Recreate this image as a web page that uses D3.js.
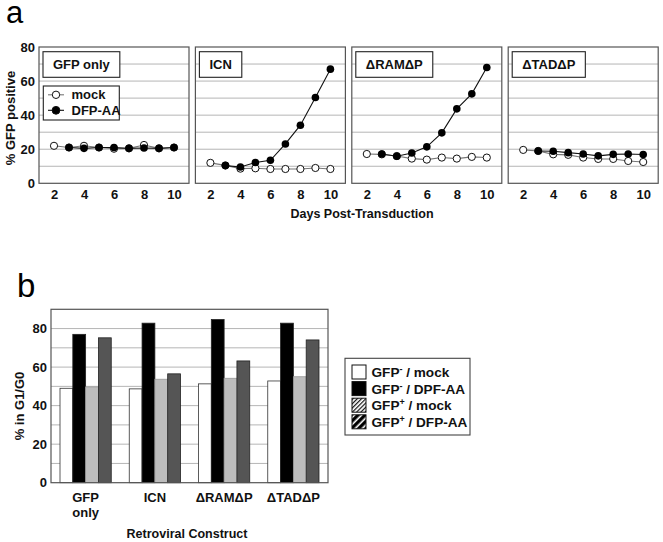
<!DOCTYPE html>
<html><head><meta charset="utf-8">
<script src="https://cdn.jsdelivr.net/npm/d3@7"></script>
<style>body{margin:0;background:#fff}svg{display:block}text{font-family:"Liberation Sans",Arial,Helvetica,sans-serif}</style>
</head><body>
<svg id="c" width="663" height="542"></svg>
<script>
// ---- Panel a data ----
const days = [2,3,4,5,6,7,8,9,10];
const constructs = ["GFP only","ICN","\u0394RAM\u0394P","\u0394TAD\u0394P"];
const mockGFPonly = [22,21,22,21,20.3,20.5,22.5,20.5,21];
const dfpGFPonly  = [null,21,20.5,21,21,20.5,20.7,20.5,21];
const mockICN = [12,10.5,8.6,8.8,8.4,8.4,8.4,9,8.4];
const dfpICN  = [null,10.4,9.6,12.2,13.5,23.1,34.1,50.4,67];
const mockRAM = [17.2,17,16,14.5,13.9,15.1,14.5,15.5,15.1];
const dfpRAM  = [null,17.2,15.9,17.8,21.4,29.6,43.7,52.5,68];
const mockTAD = [19.6,19,17,16.7,15.1,14.3,14.3,13.1,12.5];
const dfpTAD  = [null,19,18.8,18,17.2,16.1,17,17.2,16.9];
const aYTicks = [0,20,40,60,80];
const aXTicks = [2,4,6,8,10];
const aSeriesNames = ["mock","DFP-AA"];

// ---- Panel b data ----
const bCategories = [["GFP","only"],["ICN"],["\u0394RAM\u0394P"],["\u0394TAD\u0394P"]];
const gfpNegMock = [49,48.7,51.3,52.8];
const gfpNegDfp  = [77,82.8,84.7,82.8];
const gfpPosMock = [49.7,53.7,54.2,55];
const gfpPosDfp  = [75.2,56.5,63.2,74.1];
const bYTicks = [0,20,40,60,80];
const bLegend = [["GFP","-"," / mock"],["GFP","-"," / DPF-AA"],["GFP","+"," / mock"],["GFP","+"," / DFP-AA"]];

const panelsA = [
  {mock:mockGFPonly, dfp:dfpGFPonly},
  {mock:mockICN, dfp:dfpICN},
  {mock:mockRAM, dfp:dfpRAM},
  {mock:mockTAD, dfp:dfpTAD}
];

const svg = d3.select("#c");
const frameColor = "#555", gridColor = "#b5b5b5";

// defs for hatches
const defs = svg.append("defs");
const p1 = defs.append("pattern").attr("id","hFine").attr("patternUnits","userSpaceOnUse").attr("width",3).attr("height",3).attr("patternTransform","rotate(45)");
p1.append("rect").attr("width",3).attr("height",3).attr("fill","#fff");
p1.append("rect").attr("width",1.2).attr("height",3).attr("fill","#111");
const p2 = defs.append("pattern").attr("id","hBold").attr("patternUnits","userSpaceOnUse").attr("width",5).attr("height",5).attr("patternTransform","rotate(45)");
p2.append("rect").attr("width",5).attr("height",5).attr("fill","#fff");
p2.append("rect").attr("width",3.4).attr("height",5).attr("fill","#000");

// ---------- Panel a ----------
svg.append("text").attr("x",6).attr("y",23).attr("font-size",31).text("a");

const aTop = 47, aBot = 183.3, pW = 150, pLeft0 = 39, pStep = 156.4;
const yA = d3.scaleLinear().domain([0,80]).range([aBot,aTop]);

const yAxA = svg.append("g").attr("transform",`translate(${pLeft0},0)`)
  .call(d3.axisLeft(yA).tickValues(aYTicks).tickSize(0).tickPadding(4));
yAxA.select(".domain").remove();
yAxA.selectAll("text").attr("font-size",13).attr("font-weight","bold").attr("fill","#111");

svg.append("text").attr("transform","translate(15,118) rotate(-90)").attr("text-anchor","middle")
  .attr("font-size",13).attr("font-weight","bold").attr("fill","#111").text("% GFP positive");

panelsA.forEach((p,i)=>{
  const L = pLeft0 + i*pStep;
  const x = d3.scaleLinear().domain([1,11]).range([L, L+pW]);
  const g = svg.append("g");
  g.selectAll("line.grid").data(d3.range(10,80,10)).join("line")
    .attr("x1",L).attr("x2",L+pW).attr("y1",d=>yA(d)).attr("y2",d=>yA(d))
    .attr("stroke",gridColor).attr("stroke-width",1);
  g.append("rect").attr("x",L).attr("y",aTop).attr("width",pW).attr("height",aBot-aTop)
    .attr("fill","none").attr("stroke",frameColor).attr("stroke-width",1.2);
  const xa = svg.append("g").attr("transform",`translate(0,${aBot})`)
    .call(d3.axisBottom(x).tickValues(aXTicks).tickSize(0).tickPadding(6));
  xa.select(".domain").remove();
  xa.selectAll("text").attr("font-size",13).attr("font-weight","bold").attr("fill","#111");

  const mockPts = days.map((d,k)=>({d, v:p.mock[k]})).filter(o=>o.v!=null);
  const dfpPts = days.map((d,k)=>({d, v:p.dfp[k]})).filter(o=>o.v!=null);
  const line = d3.line().x(o=>x(o.d)).y(o=>yA(o.v));
  g.append("path").attr("d",line(mockPts)).attr("fill","none").attr("stroke","#777").attr("stroke-width",1.1);
  g.selectAll("circle.m").data(mockPts).join("circle").attr("cx",o=>x(o.d)).attr("cy",o=>yA(o.v)).attr("r",3.6)
    .attr("fill","#fff").attr("stroke","#111").attr("stroke-width",1);
  g.append("path").attr("d",line(dfpPts)).attr("fill","none").attr("stroke","#111").attr("stroke-width",1.1);
  g.selectAll("circle.f").data(dfpPts).join("circle").attr("cx",o=>x(o.d)).attr("cy",o=>yA(o.v)).attr("r",3.8)
    .attr("fill","#000");

  const tb = g.append("g");
  const t = tb.append("text").attr("x",L+4+10).attr("y",69).attr("font-size",13).attr("font-weight","bold").attr("fill","#111").text(constructs[i]);
  const tw = t.node().getComputedTextLength();
  tb.insert("rect","text").attr("x",L+4).attr("y",51.7).attr("width",tw+20).attr("height",25.6)
    .attr("fill","#fff").attr("stroke","#222").attr("stroke-width",1.1);

  if(i===0){
    const lg = g.append("g");
    lg.append("rect").attr("x",L+4.3).attr("y",86).attr("width",76).attr("height",34)
      .attr("fill","#fff").attr("stroke","#222").attr("stroke-width",1.1);
    aSeriesNames.forEach((nm,k)=>{
      const cy = 94.8 + k*15.5;
      lg.append("line").attr("x1",L+9).attr("x2",L+25).attr("y1",cy).attr("y2",cy).attr("stroke",k?"#111":"#777").attr("stroke-width",1.1);
      lg.append("circle").attr("cx",L+17).attr("cy",cy).attr("r",k?3.9:3.7).attr("fill",k?"#000":"#fff").attr("stroke","#111").attr("stroke-width",1);
      lg.append("text").attr("x",L+32.5).attr("y",cy+4.5).attr("font-size",13).attr("font-weight","bold").attr("fill","#111").text(nm);
    });
  }
});

svg.append("text").attr("x",362).attr("y",218).attr("text-anchor","middle").attr("font-size",12.5).attr("font-weight","bold").attr("fill","#111").text("Days Post-Transduction");

// ---------- Panel b ----------
svg.append("text").attr("x",17).attr("y",297).attr("font-size",33).text("b");

const bTop = 309.3, bBot = 482.7, bL = 51, bR = 328;
const yB = d3.scaleLinear().domain([0,90]).range([bBot,bTop]);
const xB = d3.scaleBand().domain(d3.range(bCategories.length)).range([bL,bR]).paddingInner(0.26).paddingOuter(0.13);
const seriesB = [gfpNegMock,gfpNegDfp,gfpPosMock,gfpPosDfp];
const fillsB = ["#fff","#000","#bdbdbd","#555"];
const xSub = d3.scaleBand().domain(d3.range(4)).range([0,xB.bandwidth()]);

const gb = svg.append("g");
gb.selectAll("line.grid").data(d3.range(10,90,10)).join("line")
  .attr("x1",bL).attr("x2",bR).attr("y1",d=>yB(d)).attr("y2",d=>yB(d)).attr("stroke",gridColor).attr("stroke-width",1);

seriesB.forEach((s,si)=>{
  gb.selectAll(null).data(s).join("rect")
    .attr("x",(v,ci)=>xB(ci)+xSub(si)).attr("width",xSub.bandwidth())
    .attr("y",v=>yB(v)).attr("height",v=>bBot-yB(v))
    .attr("fill",fillsB[si]).attr("stroke",si===0?"#333":(si===2?"#999":"#222")).attr("stroke-width",0.8);
});
gb.append("rect").attr("x",bL).attr("y",bTop).attr("width",bR-bL).attr("height",bBot-bTop)
  .attr("fill","none").attr("stroke",frameColor).attr("stroke-width",1.2);

const yAxB = svg.append("g").attr("transform",`translate(${bL},0)`)
  .call(d3.axisLeft(yB).tickValues(bYTicks).tickSize(0).tickPadding(4));
yAxB.select(".domain").remove();
yAxB.selectAll("text").attr("font-size",13).attr("font-weight","bold").attr("fill","#111");

svg.append("text").attr("transform","translate(24,406) rotate(-90)").attr("text-anchor","middle")
  .attr("font-size",13).attr("font-weight","bold").attr("fill","#111").text("% in G1/G0");

bCategories.forEach((lines,ci)=>{
  const cx = xB(ci)+xB.bandwidth()/2;
  lines.forEach((ln,k)=>{
    svg.append("text").attr("x",cx).attr("y",502+k*15).attr("text-anchor","middle").attr("font-size",13).attr("font-weight","bold").attr("fill","#111").text(ln);
  });
});
svg.append("text").attr("x",187).attr("y",538).attr("text-anchor","middle").attr("font-size",12.5).attr("font-weight","bold").attr("fill","#111").text("Retroviral Construct");

const lgb = svg.append("g");
lgb.append("rect").attr("x",345).attr("y",358.3).attr("width",125).attr("height",76.7).attr("fill","#fff").attr("stroke","#444").attr("stroke-width",1.1);
const swFill = ["#fff","#000","url(#hFine)","url(#hBold)"];
bLegend.forEach((lb,k)=>{
  const yy = 365 + k*16.6;
  lgb.append("rect").attr("x",352).attr("y",yy).attr("width",14).attr("height",14).attr("fill",swFill[k]).attr("stroke","#111").attr("stroke-width",1);
  const t = lgb.append("text").attr("x",371.5).attr("y",yy+12).attr("font-size",13.6).attr("font-weight","bold").attr("fill","#111");
  t.append("tspan").text(lb[0]);
  t.append("tspan").attr("font-size",9).attr("dy",-5).text(lb[1]);
  t.append("tspan").attr("dy",5).text(lb[2]);
});
</script>
</body></html>
